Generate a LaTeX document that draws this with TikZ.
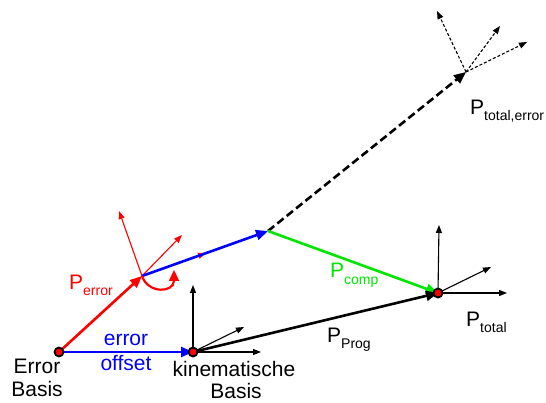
\documentclass[tikz,border=0pt]{standalone}
\usepackage{fontspec}
\setmainfont{Liberation Sans}
\usetikzlibrary{arrows.meta}
\definecolor{cred}{RGB}{255,0,0}
\definecolor{cblue}{RGB}{0,0,255}
\definecolor{cgreen}{RGB}{0,230,0}
\newcommand{\sbx}[1]{{\fontsize{14}{14}\selectfont\raisebox{-6pt}{#1}}}
\begin{document}
\begin{tikzpicture}[x=1pt,y=-1pt,
  thickvec/.style={line width=2.6pt,-{Triangle[length=12pt,width=10pt]}},
  thinvec/.style={line width=1.1pt,-{Triangle[length=8pt,width=6pt]}},
  lbl/.style={inner sep=0pt,font=\fontsize{21}{24}\selectfont},
  dot/.style={circle,draw=black,fill=cred,line width=1.8pt,minimum size=9pt,inner sep=0pt}]
\useasboundingbox (0,0) rectangle (546,403);
\coordinate (E) at (59,352);
\coordinate (K) at (193,352);
\coordinate (P) at (142,276);
\coordinate (B) at (268,231);
\coordinate (T) at (466,72);
\coordinate (Q) at (438,293);
% red frame at P
\coordinate (r1) at (119,211);
\coordinate (r2) at (182,235);
\coordinate (r3) at (206,253);
\draw[thinvec,cred] (P) -- (r1);
\draw[thinvec,cred] (P) -- (r2);
\draw[thinvec,cred] (P) -- (r3);
% kinematic frame
\coordinate (k1) at (193,285);
\coordinate (k2) at (261,352);
\coordinate (k3) at (244,327);
\draw[thinvec] (K) -- (k1);
\draw[thinvec] (K) -- (k2);
\draw[thinvec] (K) -- (k3);
% Q frame
\coordinate (q1) at (439,225);
\coordinate (q2) at (507,293);
\coordinate (q3) at (491,267);
\draw[thinvec] (Q) -- (q1);
\draw[thinvec] (Q) -- (q2);
\draw[thinvec] (Q) -- (q3);
% T frame dashed
\coordinate (t1) at (437,11);
\coordinate (t2) at (500,26);
\coordinate (t3) at (527,42);
\draw[thinvec,dash pattern=on 3pt off 2pt] (T) -- (t1);
\draw[thinvec,dash pattern=on 3pt off 2pt] (T) -- (t2);
\draw[thinvec,dash pattern=on 3pt off 2pt] (T) -- (t3);
% main vectors
\draw[thickvec,cred] (E) -- (P);
\draw[thickvec,cblue] (P) -- (B);
\draw[thickvec,cblue] (E) -- (K);
\draw[thickvec,dash pattern=on 8pt off 4pt] (B) -- (T);
\draw[thickvec,cgreen] (B) -- (Q);
\draw[thickvec] (K) -- (Q);
% rotation arc
\coordinate (a1) at (174,270);
\draw[cred,line width=2.2pt,-{Triangle[length=11pt,width=10pt]}] (P) .. controls (148,294) and (174,293) .. (a1);
% dots
\node[dot] (dE) at (E) {};
\node[dot] (dK) at (K) {};
\node[dot] (dQ) at (Q) {};
% labels
\node[lbl,text=cred,anchor=base west] (lPe) at (69,290) {P\sbx{error}};
\node[lbl,text=cblue] (lerr) at (126,340) {error};
\node[lbl,text=cblue] (loff) at (126,363) {offset};
\node[lbl] (lE1) at (37,366) {Error};
\node[lbl] (lE2) at (37,389) {Basis};
\node[lbl] (lk1) at (234,369) {kinematische};
\node[lbl] (lk2) at (236,391) {Basis};
\node[lbl,text=cgreen,anchor=base west] (lPc) at (330,278) {P\sbx{comp}};
\node[lbl,anchor=base west] (lPp) at (327,342) {P\sbx{Prog}};
\node[lbl,anchor=base west] (lPt) at (466,326) {P\sbx{total}};
\node[lbl,anchor=base west] (lPte) at (470,115) {P\sbx{total,error}};
\end{tikzpicture}
\end{document}
